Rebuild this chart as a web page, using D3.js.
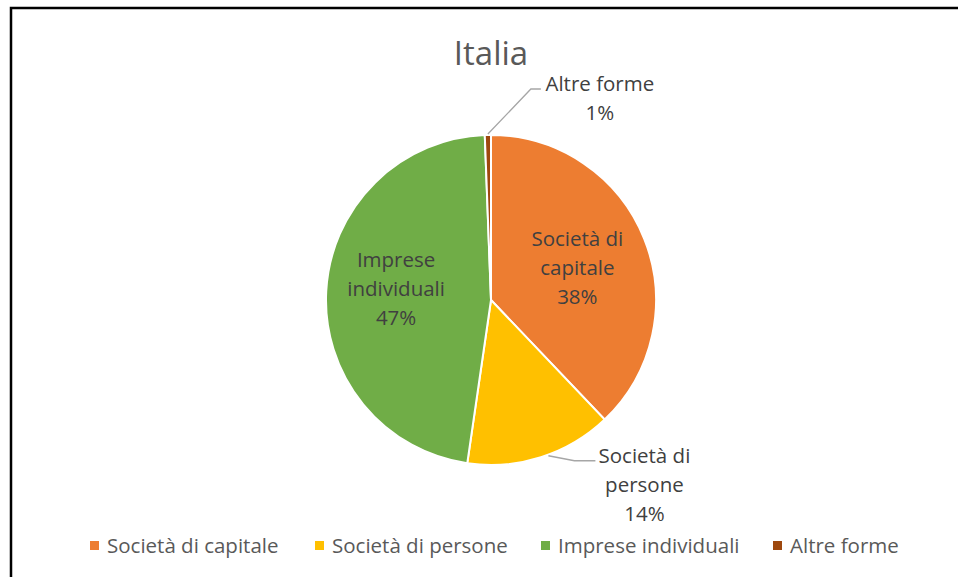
<html>
<head>
<meta charset="utf-8">
<script src="https://d3js.org/d3.v7.min.js"></script>
<style>
  body { margin: 0; background: #fff; font-family: 'Open Sans', Lato, sans-serif; }
  svg text { fill: #595959; }
</style>
</head>
<body>
<div id="chart"></div>
<script>
const categories = ['Società di capitale', 'Società di persone', 'Imprese individuali', 'Altre forme']
const values = [37.9, 14.4, 47.1, 0.6]
const colors = ['#ED7D31', '#FFC000', '#70AD47', '#9E480E']
const labelLines = [['Società di', 'capitale'], ['Società di', 'persone'], ['Imprese', 'individuali'], ['Altre forme']]

const W = 958, H = 577
const cx = 491, cy = 300, r = 165

const svg = d3.select('#chart').append('svg')
  .attr('width', W).attr('height', H)

// frame
svg.append('rect')
  .attr('x', 11).attr('y', 8)
  .attr('width', W + 20).attr('height', H + 20)
  .attr('fill', 'none').attr('stroke', '#000').attr('stroke-width', 2.5)

svg.append('text')
  .attr('x', cx).attr('y', 65)
  .attr('text-anchor', 'middle')
  .style('font-size', '33px')
  .text('Italia')

const data = categories.map((c, i) => ({name: c, value: values[i], color: colors[i], lines: labelLines[i]}))
const pie = d3.pie().sort(null).value(d => d.value)
const arcs = pie(data)
const arc = d3.arc().innerRadius(0).outerRadius(r)

const g = svg.append('g').attr('transform', `translate(${cx},${cy})`)

g.selectAll('path').data(arcs).enter().append('path')
  .attr('d', arc)
  .attr('fill', d => d.data.color)
  .attr('stroke', '#fff')
  .attr('stroke-width', 2)

const pct = d => Math.round(d.data.value) + '%'

// inside labels
const inside = d3.arc().innerRadius(0).outerRadius(2 * r * 0.57)
function writeLabel(x, y, lines, anchor) {
  const t = g.append('text')
    .attr('text-anchor', anchor || 'middle')
    .style('font-size', '20.5px')
    .style('fill', '#404040')
  lines.forEach((l, i) => {
    t.append('tspan').attr('x', x).attr('y', y + i * 29).text(l)
  })
  return t
}
const nudge = {0: 7, 2: -2}
;[0, 2].forEach(i => {
  const c = inside.centroid(arcs[i])
  writeLabel(c[0] - 1, c[1] - 26 + nudge[i], arcs[i].data.lines.concat(pct(arcs[i])))
})

// outside labels with leader lines
function outsidePoint(a, rr) {
  const ang = (a.startAngle + a.endAngle) / 2
  return [Math.sin(ang) * rr, -Math.cos(ang) * rr]
}
const leader = d3.line()

// Altre forme
{
  const a = arcs[3]
  const p0 = outsidePoint(a, r + 1)
  const lx = p0[0] + 112, ly = -209
  g.append('path')
    .attr('d', leader([p0, [p0[0] + 43, ly - 2], [p0[0] + 53, ly - 2]]))
    .attr('fill', 'none').attr('stroke', '#A6A6A6').attr('stroke-width', 1.3)
  writeLabel(lx, ly, a.data.lines.concat(pct(a)))
}
// Società di persone
{
  const a = arcs[1]
  const ang = a.startAngle + (a.endAngle - a.startAngle) * 0.45
  const p0 = [Math.sin(ang) * (r + 1), -Math.cos(ang) * (r + 1)]
  g.append('path')
    .attr('d', leader([p0, [p0[0] + 26, p0[1] + 5], [p0[0] + 47, p0[1] + 5]]))
    .attr('fill', 'none').attr('stroke', '#A6A6A6').attr('stroke-width', 1.3)
  writeLabel(p0[0] + 96, p0[1] + 7, a.data.lines.concat(pct(a)))
}

// legend
const legendX = [90, 315, 541, 773]
const lg = svg.append('g')
data.forEach((d, i) => {
  lg.append('rect')
    .attr('x', legendX[i]).attr('y', 541)
    .attr('width', 9).attr('height', 9)
    .attr('fill', d.color)
  lg.append('text')
    .attr('x', legendX[i] + 17).attr('y', 553)
    .style('font-size', '20.5px')
    .text(d.name)
})
</script>
</body>
</html>
